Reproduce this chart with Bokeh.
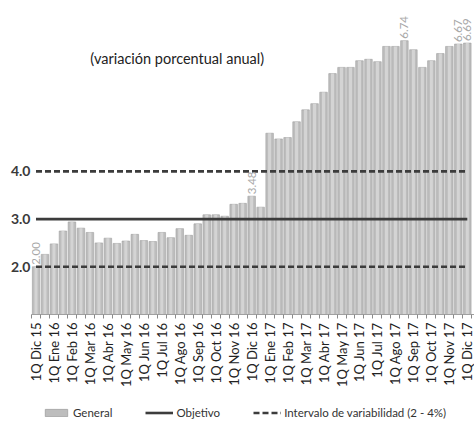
import math
from bokeh.plotting import figure
from bokeh.layouts import column
from bokeh.models import (ColumnDataSource, Range1d, FixedTicker, NumeralTickFormatter,
                          Legend, LegendItem, Label)
from bokeh.core.properties import value
from bokeh.embed import file_html
from bokeh.resources import INLINE

categories = ["1Q Dic 15", "2Q Dic 15", "1Q Ene 16", "2Q Ene 16", "1Q Feb 16", "2Q Feb 16",
              "1Q Mar 16", "2Q Mar 16", "1Q Abr 16", "2Q Abr 16", "1Q May 16", "2Q May 16",
              "1Q Jun 16", "2Q Jun 16", "1Q Jul 16", "2Q Jul 16", "1Q Ago 16", "2Q Ago 16",
              "1Q Sep 16", "2Q Sep 16", "1Q Oct 16", "2Q Oct 16", "1Q Nov 16", "2Q Nov 16",
              "1Q Dic 16", "2Q Dic 16", "1Q Ene 17", "2Q Ene 17", "1Q Feb 17", "2Q Feb 17",
              "1Q Mar 17", "2Q Mar 17", "1Q Abr 17", "2Q Abr 17", "1Q May 17", "2Q May 17",
              "1Q Jun 17", "2Q Jun 17", "1Q Jul 17", "2Q Jul 17", "1Q Ago 17", "2Q Ago 17",
              "1Q Sep 17", "2Q Sep 17", "1Q Oct 17", "2Q Oct 17", "1Q Nov 17", "2Q Nov 17",
              "1Q Dic 17"]

general = [2.00, 2.26, 2.48, 2.75, 2.94, 2.81, 2.72, 2.50, 2.60, 2.49,
           2.54, 2.68, 2.55, 2.53, 2.72, 2.61, 2.80, 2.66, 2.90, 3.09,
           3.09, 3.06, 3.31, 3.33, 3.48, 3.25, 4.80, 4.68, 4.71, 5.04,
           5.29, 5.42, 5.66, 6.05, 6.18, 6.18, 6.32, 6.35, 6.30, 6.62,
           6.62, 6.74, 6.55, 6.18, 6.32, 6.47, 6.62, 6.67, 6.69]

objetivo = [3.0] * len(categories)
intervalo_inf = [2.0] * len(categories)
intervalo_sup = [4.0] * len(categories)

labeled_points = ["1Q Dic 15", "1Q Dic 16", "2Q Ago 17", "2Q Nov 17", "1Q Dic 17"]

y_ticks = [2.0, 3.0, 4.0]

subtitle = "(variación porcentual anual)"
legend_labels = ["General", "Objetivo", "Intervalo de variabilidad (2 - 4%)"]

FONT = "Lato"
BAR_FILL = "#bdbdbd"
BAR_LINE = "#a0a0a0"
LINE_COL = "#3c3c3c"

xs = [i + 0.5 for i in range(len(categories))]
src = ColumnDataSource(dict(x=xs, cat=categories, general=general, obj=objetivo,
                            lo=intervalo_inf, hi=intervalo_sup))
lab_idx = [categories.index(c) for c in labeled_points]
lab_src = ColumnDataSource(dict(x=[xs[i] for i in lab_idx],
                                y=[general[i] for i in lab_idx],
                                t=["%.2f" % general[i] for i in lab_idx]))

p = figure(width=474, height=395, output_backend="svg", toolbar_location=None,
           x_range=Range1d(0, 49.3), y_range=Range1d(1.0, 7.583),
           min_border_left=31, min_border_right=0, min_border_top=0, min_border_bottom=81)
p.outline_line_color = None
p.grid.visible = False
p.background_fill_color = "white"

p.vbar(x="x", top="general", bottom=1.0, width=0.84, source=src,
       fill_color=BAR_FILL, line_color=BAR_LINE, line_width=0.6)
p.vbar(x="x", top="general", bottom=1.0, width=0.34, source=src,
       fill_color="#d4d4d4", line_color=None)

p.line(x="x", y="obj", source=src, line_color=LINE_COL, line_width=2.6)
p.line(x="x", y="lo", source=src, line_color=LINE_COL, line_width=2.6, line_dash="6 3")
p.line(x="x", y="hi", source=src, line_color=LINE_COL, line_width=2.6, line_dash="6 3")

p.text(x="x", y="y", text="t", source=lab_src, angle=math.pi / 2, text_align="left",
       text_baseline="middle", y_offset=-2, text_color="#a8a8a8",
       text_font=value(FONT), text_font_size="11.5px")

p.add_layout(Label(x=6.55, y=6.37, text=subtitle, text_font=FONT, text_font_size="14.5px",
                   text_color="#222222", text_baseline="middle", text_align="left"))

# x axis
major = [xs[i] for i, c in enumerate(categories) if c.startswith("1Q")]
p.xaxis.ticker = FixedTicker(ticks=major, minor_ticks=list(range(len(categories) + 1)))
p.xaxis.major_label_overrides = {xs[i]: c for i, c in enumerate(categories) if c.startswith("1Q")}
p.xaxis.major_label_orientation = math.pi / 2
p.xaxis.major_label_text_font = FONT
p.xaxis.major_label_text_font_size = "13px"
p.xaxis.major_label_text_color = "#222222"
p.xaxis.major_tick_line_color = None
p.xaxis.major_tick_out = 0
p.xaxis.major_tick_in = 0
p.xaxis.minor_tick_out = 4
p.xaxis.minor_tick_in = 0
p.xaxis.minor_tick_line_color = "#8a8a8a"
p.xaxis.axis_line_color = "#a0a0a0"
p.xaxis.major_label_standoff = 4

# y axis
p.yaxis.ticker = FixedTicker(ticks=y_ticks)
p.yaxis.formatter = NumeralTickFormatter(format="0.0")
p.yaxis.axis_line_color = None
p.yaxis.major_tick_line_color = None
p.yaxis.minor_tick_line_color = None
p.yaxis.major_tick_out = 0
p.yaxis.major_label_standoff = 1
p.yaxis.major_label_text_font = FONT
p.yaxis.major_label_text_font_style = "bold"
p.yaxis.major_label_text_font_size = "14px"
p.yaxis.major_label_text_color = "#3a3a3a"

# legend strip (separate figure below the chart); swatch renderers carry no drawable data
lf = figure(width=474, height=34, output_backend="svg", toolbar_location=None,
            x_range=Range1d(0, 1), y_range=Range1d(0, 1),
            x_axis_type=None, y_axis_type=None,
            min_border_left=0, min_border_right=0, min_border_top=0, min_border_bottom=0)
lf.outline_line_color = None
lf.grid.visible = False
nan = float("nan")
swatch = ColumnDataSource(dict(x=[nan], y=[nan]))
r_bar = lf.vbar(x="x", top="y", width=0.5, source=swatch,
                fill_color=BAR_FILL, line_color=BAR_LINE, line_width=0.8)
r_obj = lf.line(x="x", y="y", source=swatch, line_color=LINE_COL, line_width=2.6)
r_int = lf.line(x="x", y="y", source=swatch, line_color=LINE_COL, line_width=2.6, line_dash="6 3")

legend = Legend(items=[LegendItem(label=legend_labels[0], renderers=[r_bar]),
                       LegendItem(label=legend_labels[1], renderers=[r_obj]),
                       LegendItem(label=legend_labels[2], renderers=[r_int])],
                orientation="horizontal", location=(11, 10),
                glyph_width=28, glyph_height=9, label_standoff=3, spacing=33,
                padding=0, margin=0, border_line_color=None, background_fill_alpha=0,
                label_text_font=FONT, label_text_font_size="11.5px", label_text_color="#333333",
                label_height=14)
lf.add_layout(legend, "center")

layout = column(p, lf, spacing=0)
open("out.html", "w").write(file_html(layout, INLINE))
